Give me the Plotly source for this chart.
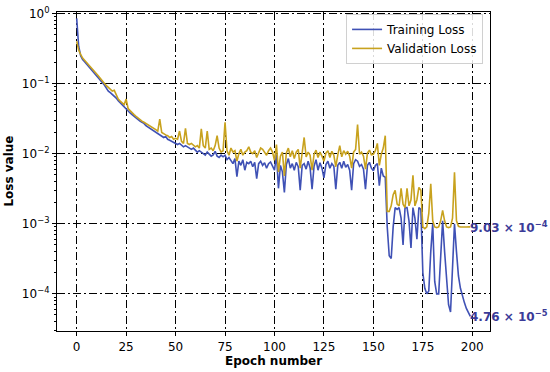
import math
import plotly.graph_objects as go

epochs = list(range(200))

training_loss = [
    0.85, 0.34, 0.25, 0.22, 0.205, 0.19, 0.178, 0.165, 0.155, 0.142,
    0.132, 0.122, 0.112, 0.103, 0.095, 0.086, 0.078, 0.074, 0.07, 0.066,
    0.062, 0.057, 0.053, 0.05, 0.047, 0.043, 0.04, 0.038, 0.036, 0.034,
    0.032, 0.031, 0.029, 0.028, 0.027, 0.025, 0.024, 0.023, 0.022, 0.021,
    0.02, 0.019, 0.0185, 0.018, 0.017, 0.0175, 0.016, 0.0155, 0.015, 0.0145,
    0.014, 0.0135, 0.014, 0.013, 0.0125, 0.013, 0.0125, 0.012, 0.0115, 0.012,
    0.011, 0.0105, 0.011, 0.0105, 0.010, 0.0095, 0.0105, 0.0098, 0.0092, 0.0096,
    0.0108, 0.0092, 0.0088, 0.0095, 0.009, 0.0095, 0.0082, 0.0088, 0.0078, 0.0072,
    0.0085, 0.0047, 0.0078, 0.0068, 0.0082, 0.0058, 0.0075, 0.0072, 0.0078, 0.0065,
    0.0075, 0.0044, 0.0072, 0.0078, 0.0068, 0.0074, 0.0062, 0.0072, 0.0076, 0.0066,
    0.0058, 0.0098, 0.0032, 0.0068, 0.0055, 0.0028, 0.007, 0.0085, 0.0062, 0.0072,
    0.0058, 0.0075, 0.0065, 0.003, 0.0068, 0.0072, 0.006, 0.0078, 0.0063, 0.0031,
    0.0066, 0.0082, 0.0058, 0.0074, 0.0062, 0.0045, 0.007, 0.0078, 0.0062, 0.0072,
    0.0066, 0.0031, 0.0068, 0.0075, 0.0062, 0.0078, 0.0064, 0.007, 0.0058, 0.0030,
    0.0072, 0.0082, 0.0078, 0.0066, 0.007, 0.006, 0.0031, 0.0068, 0.0075, 0.0062,
    0.0057, 0.0068, 0.0072, 0.0035, 0.0062, 0.0048, 0.0046, 0.0009, 0.00035, 0.00032,
    0.0009, 0.0017, 0.0016, 0.0017, 0.0012, 0.0005, 0.0017, 0.0017, 0.0011, 0.00045,
    0.0017, 0.0012, 0.0006, 0.0017, 0.0016, 0.0002, 0.00012, 0.0001, 0.00011, 0.0004,
    0.001, 0.00015, 0.0001, 0.0001, 0.0003, 0.0011, 0.0004, 0.00015, 0.00007, 0.000055,
    0.0002, 0.001, 0.0004, 0.00018, 0.00012, 0.00009, 0.000075, 0.000062, 0.000053, 0.0000476,
]

validation_loss = [
    0.40, 0.30, 0.26, 0.23, 0.215, 0.20, 0.19, 0.175, 0.163, 0.15,
    0.14, 0.128, 0.118, 0.108, 0.10, 0.093, 0.088, 0.082, 0.078, 0.080,
    0.068, 0.06, 0.056, 0.052, 0.05, 0.06, 0.044, 0.041, 0.038, 0.036,
    0.034, 0.032, 0.031, 0.029, 0.028, 0.027, 0.026, 0.025, 0.024, 0.023,
    0.022, 0.021, 0.031, 0.02, 0.019, 0.0185, 0.018, 0.017, 0.0175, 0.016,
    0.0165, 0.016, 0.021, 0.015, 0.014, 0.023, 0.014, 0.0135, 0.014, 0.013,
    0.0125, 0.013, 0.012, 0.0225, 0.013, 0.012, 0.021, 0.0115, 0.012, 0.011,
    0.013, 0.018, 0.012, 0.0105, 0.011, 0.028, 0.011, 0.0095, 0.012, 0.0105,
    0.011, 0.0078, 0.01, 0.0115, 0.0095, 0.0105, 0.011, 0.0125, 0.0105, 0.01,
    0.011, 0.0088, 0.0105, 0.012, 0.0115, 0.0105, 0.0095, 0.011, 0.012, 0.0105,
    0.008, 0.0135, 0.0055, 0.0092, 0.0105, 0.0048, 0.0102, 0.012, 0.009, 0.011,
    0.0085, 0.0105, 0.0115, 0.0062, 0.0095, 0.017, 0.009, 0.0105, 0.0095, 0.0058,
    0.0098, 0.0112, 0.0088, 0.0105, 0.0092, 0.0078, 0.0102, 0.011, 0.0088, 0.0108,
    0.0095, 0.0065, 0.0096, 0.013, 0.009, 0.011, 0.0098, 0.0108, 0.0092, 0.0062,
    0.0105, 0.0115, 0.026, 0.0098, 0.0105, 0.0092, 0.006, 0.0102, 0.0112, 0.0096,
    0.0098, 0.011, 0.014, 0.0068, 0.0098, 0.012, 0.018, 0.0015, 0.0015, 0.0018,
    0.0026, 0.003, 0.0019, 0.0018, 0.0032, 0.0019, 0.0017, 0.0032, 0.0018, 0.0022,
    0.0049, 0.0018, 0.0022, 0.0033, 0.003, 0.0009, 0.00085, 0.0009, 0.0014, 0.0037,
    0.0011, 0.0009, 0.00088, 0.0009, 0.0011, 0.00155, 0.0011, 0.0009, 0.00088, 0.0009,
    0.0012, 0.0054, 0.0011, 0.00092, 0.0009, 0.00091, 0.0009, 0.0009, 0.0009, 0.000903,
]

x_ticks = [0, 25, 50, 75, 100, 125, 150, 175, 200]
y_tickvals = [1, 0.1, 0.01, 0.001, 0.0001]
y_ticktext = ["10<sup>0</sup>", "10<sup>−1</sup>", "10<sup>−2</sup>", "10<sup>−3</sup>", "10<sup>−4</sup>"]
final_labels = ["9.03 × 10<sup>−4</sup>", "4.76 × 10<sup>−5</sup>"]

train_color = "#3f51b5"
val_color = "#c8a21e"
label_color = "#3b3b98"
FONT = "DejaVu Sans"

fig = go.Figure()
fig.add_trace(go.Scatter(x=epochs, y=training_loss, mode="lines", name="Training Loss",
                         line=dict(color=train_color, width=1.6)))
fig.add_trace(go.Scatter(x=epochs, y=validation_loss, mode="lines", name="Validation Loss",
                         line=dict(color=val_color, width=1.6)))

for lbl, series in zip(final_labels, [validation_loss, training_loss]):
    fig.add_annotation(x=epochs[-1], y=math.log10(series[-1]),
                       text="<b>" + lbl + "</b>", showarrow=False,
                       xanchor="left", yanchor="middle", xshift=-2,
                       font=dict(family=FONT, size=12, color=label_color))

# axis titles as annotations for exact placement
fig.add_annotation(x=0.499, y=-0.094, xref="paper", yref="paper", text="<b>Epoch number</b>",
                   showarrow=False, xanchor="center", yanchor="middle",
                   font=dict(family=FONT, size=12, color="black"))
fig.add_annotation(x=-0.113, y=0.5, xref="paper", yref="paper", text="<b>Loss value</b>",
                   showarrow=False, xanchor="center", yanchor="middle", textangle=-90,
                   font=dict(family=FONT, size=12, color="black"))

grid = dict(showgrid=True, gridcolor="black", gridwidth=1, griddash="8px,3px,2px,3px")
fig.update_xaxes(range=[-9.95, 208.95], tickvals=x_ticks, ticks="outside", ticklen=4,
                 tickcolor="black", showline=True, linecolor="black", linewidth=1.2, mirror=True,
                 zeroline=False, automargin=False, **grid)
fig.update_yaxes(type="log", range=[-4.53, 0.02], tickvals=y_tickvals, ticktext=y_ticktext,
                 ticks="outside", ticklen=4, tickcolor="black", showline=True, linecolor="black",
                 linewidth=1.2, mirror=True, zeroline=False, automargin=False,
                 minor=dict(ticks="outside", ticklen=2, tickcolor="black", showgrid=False,
                            dtick="D1"),
                 **grid)

fig.update_layout(
    width=550, height=372,
    margin=dict(l=57, r=60, t=12, b=41),
    plot_bgcolor="white", paper_bgcolor="white",
    font=dict(family=FONT, size=12, color="black"),
    showlegend=True,
    legend=dict(x=0.984, y=0.994, xanchor="right", yanchor="top",
                bgcolor="rgba(255,255,255,0.85)", bordercolor="#d0d0d0", borderwidth=1,
                font=dict(family=FONT, size=12), itemwidth=30, tracegroupgap=0),
)

fig.write_html("out.html", config={"displayModeBar": False},
               post_script="document.body.style.margin='0';document.body.style.padding='0';")
